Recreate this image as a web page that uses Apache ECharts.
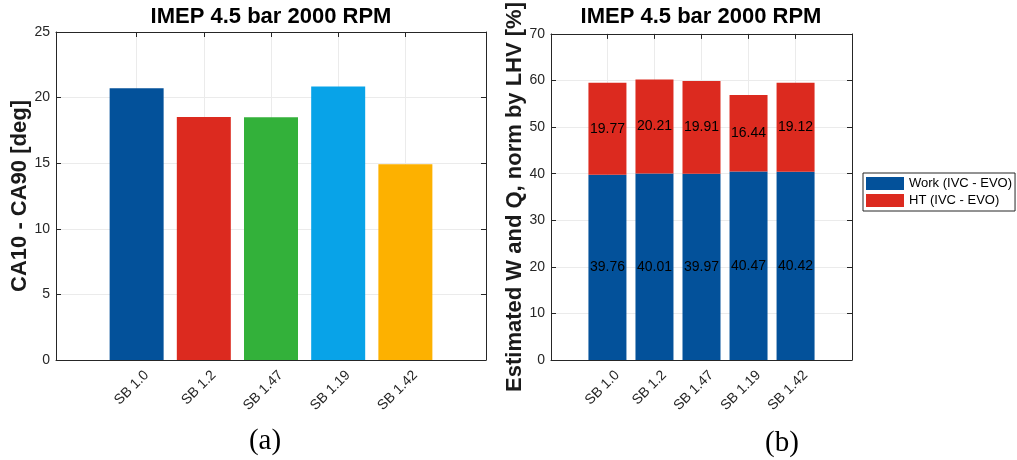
<!DOCTYPE html>
<html>
<head>
<meta charset="utf-8">
<script src="https://cdn.jsdelivr.net/npm/echarts@6/dist/echarts.min.js"></script>
<style>
  html, body { margin: 0; padding: 0; background: #fff; }
  #chart { width: 1017px; height: 460px; }
</style>
</head>
<body>
<div id="chart"></div>
<script>
// Spark-plug variants, shared by both panels
const categories = ['SB 1.0', 'SB 1.2', 'SB 1.47', 'SB 1.19', 'SB 1.42'];
// Panel (a): combustion duration CA10-CA90 [deg]
const burnDuration = [20.72, 18.53, 18.50, 20.84, 14.92];
const barColors = ['#03519a', '#dc2a1f', '#33b13a', '#08a3e8', '#fdb100'];
// Panel (b): energy split, % of fuel LHV
const workIvcEvo = [39.76, 40.01, 39.97, 40.47, 40.42];
const htIvcEvo = [19.77, 20.21, 19.91, 16.44, 19.12];
const yTicksA = { min: 0, max: 25, interval: 5 };
const yTicksB = { min: 0, max: 70, interval: 10 };

const FONT = '"Liberation Sans", Arial, Helvetica, sans-serif';
const SERIF = '"Liberation Serif", "Times New Roman", serif';
const INK = '#262626';
const positions = categories.map((_, i) => i + 1);

function xAxes(gridIndex) {
  const common = {
    type: 'value', gridIndex, min: -0.2, max: 6.2,
    axisLine: { show: true, onZero: false, lineStyle: { color: INK, width: 1 } },
    axisTick: { show: true, inside: true, length: 5, customValues: positions, lineStyle: { color: INK } },
    splitLine: { show: false }
  };
  return [
    Object.assign({}, common, {
      position: 'bottom',
      splitLine: { show: true, lineStyle: { color: '#ebebeb', width: 1 } },
      axisLabel: {
        customValues: positions, rotate: 45, margin: 3, fontSize: 14,
        verticalAlign: 'top', lineHeight: 28,
        color: INK, fontFamily: FONT,
        formatter: v => categories[Math.round(v) - 1] || ''
      }
    }),
    Object.assign({}, common, { position: 'top', axisLabel: { show: false } })
  ];
}

function yAxes(gridIndex, ticks, name) {
  const common = {
    type: 'value', gridIndex, min: ticks.min, max: ticks.max, interval: ticks.interval,
    axisLine: { show: true, onZero: false, lineStyle: { color: INK, width: 1 } },
    axisTick: { show: true, inside: true, length: 5, lineStyle: { color: INK } }
  };
  return [
    Object.assign({}, common, {
      position: 'left',
      name, nameLocation: 'middle', nameGap: 22,
      nameTextStyle: { fontSize: 22, fontWeight: 'bold', color: '#1a1a1a', fontFamily: FONT },
      splitLine: { show: true, lineStyle: { color: '#ebebeb', width: 1 } },
      axisLabel: { fontSize: 14, color: INK, fontFamily: FONT, margin: 6 }
    }),
    Object.assign({}, common, {
      position: 'right', splitLine: { show: false }, axisLabel: { show: false }
    })
  ];
}

const chart = echarts.init(document.getElementById('chart'), null, { renderer: 'canvas' });

// stacked segments carry [value, position] so the stack runs on the value dimension
const segmentLabel = {
  show: true, position: 'inside', color: '#000', fontSize: 14, fontFamily: FONT,
  formatter: p => p.value[0].toFixed(2)
};

const titleStyle = { fill: '#000', font: 'bold 22px ' + FONT };

chart.setOption({
  backgroundColor: '#fff',
  animation: false,
  graphic: [
    { type: 'text', x: 271, y: 6, style: Object.assign({ text: 'IMEP 4.5 bar 2000 RPM', align: 'center' }, titleStyle) },
    { type: 'text', x: 701, y: 6, style: Object.assign({ text: 'IMEP 4.5 bar 2000 RPM', align: 'center' }, titleStyle) },
    { type: 'text', x: 265, y: 427, style: { text: '(a)', align: 'center', fill: '#000', font: '29px ' + SERIF } },
    { type: 'text', x: 782, y: 429, style: { text: '(b)', align: 'center', fill: '#000', font: '29px ' + SERIF } }
  ],
  legend: {
    show: true,
    data: ['Work (IVC - EVO)', 'HT (IVC - EVO)'],
    orient: 'vertical', left: 863, top: 173,
    itemWidth: 38, itemHeight: 13, itemGap: 4,
    icon: 'rect',
    padding: [4, 3, 4, 3],
    borderColor: INK, borderWidth: 1,
    textStyle: { fontSize: 13, color: '#000', fontFamily: FONT }
  },
  grid: [
    { left: 56, right: 1017 - 486, top: 32, bottom: 100, containLabel: false },
    { left: 551, right: 1017 - 852, top: 32, bottom: 100, containLabel: false }
  ],
  xAxis: [...xAxes(0), ...xAxes(1)],
  yAxis: [
    ...yAxes(0, yTicksA, 'CA10 - CA90 [deg]'),
    ...yAxes(1, yTicksB, 'Estimated W and Q, norm by LHV [%]')
  ],
  series: [
    {
      type: 'bar', xAxisIndex: 0, yAxisIndex: 0, barWidth: 54,
      data: burnDuration.map((v, i) => ({ value: [positions[i], v], itemStyle: { color: barColors[i] } }))
    },
    {
      name: 'Work (IVC - EVO)', type: 'bar', stack: 'energy', xAxisIndex: 2, yAxisIndex: 2, barWidth: 38,
      encode: { x: 1, y: 0 },
      itemStyle: { color: '#03519a' }, label: segmentLabel,
      data: workIvcEvo.map((v, i) => [v, positions[i]])
    },
    {
      name: 'HT (IVC - EVO)', type: 'bar', stack: 'energy', xAxisIndex: 2, yAxisIndex: 2, barWidth: 38,
      encode: { x: 1, y: 0 },
      itemStyle: { color: '#dc2a1f' }, label: segmentLabel,
      data: htIvcEvo.map((v, i) => [v, positions[i]])
    }
  ]
});
</script>
</body>
</html>
